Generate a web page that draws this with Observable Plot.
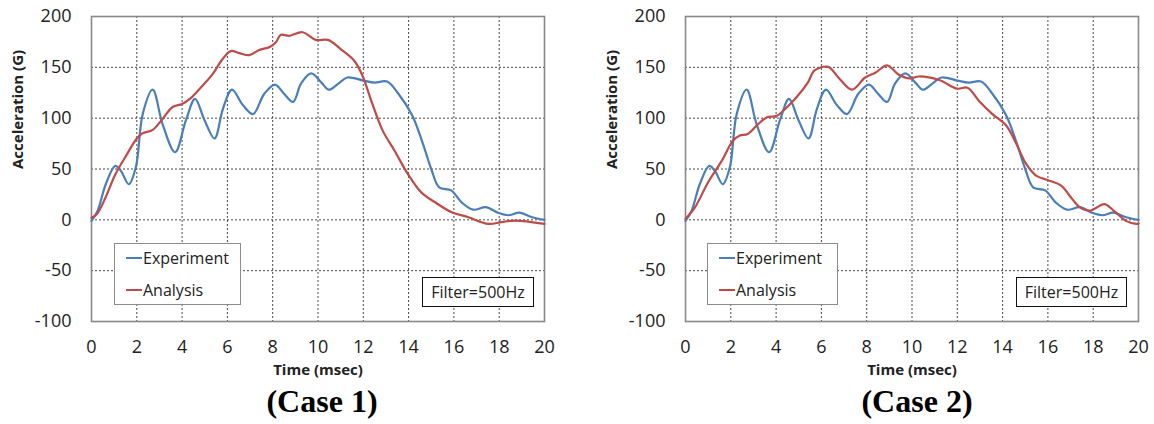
<!DOCTYPE html>
<html>
<head>
<meta charset="utf-8">
<script src="https://cdn.jsdelivr.net/npm/d3@7"></script>
<script src="https://cdn.jsdelivr.net/npm/@observablehq/plot@0.6"></script>
<style>
  html, body { margin: 0; padding: 0; background: #fff; }
  #root { position: relative; width: 1154px; height: 424px; overflow: hidden; font-family: "Open Sans", sans-serif; }
  .panel { position: absolute; top: 0; }
  .legend { position: absolute; border: 1px solid #8c8c8c; background: #fff; box-sizing: border-box; }
  .entry { position: absolute; left: 0; height: 22px; display: flex; align-items: center; font-size: 16px; color: #222; }
  .swatch { display: inline-block; width: 16px; height: 0; border-top: 2px solid; margin-right: 1px; }
  .filter { position: absolute; border: 1.5px solid #111; background: #fff; box-sizing: border-box; font-size: 16px; color: #222; display: flex; align-items: center; justify-content: center; }
  .caption { position: absolute; top: 383px; transform: translateX(-50%); font-family: "Liberation Serif", "Times New Roman", serif; font-weight: bold; font-size: 32px; color: #000; white-space: nowrap; }
</style>
</head>
<body>
<div id="root"></div>
<script>
// ---- data ----
const xTicks = [0, 2, 4, 6, 8, 10, 12, 14, 16, 18, 20];
const yTicks = [-100, -50, 0, 50, 100, 150, 200];

const expTime  = [0, 0.27, 0.63, 1.05, 1.3, 1.65, 1.96, 2.26, 2.7, 3.14, 3.69, 4.17, 4.57, 4.99, 5.43, 5.8, 6.2, 6.68, 7.13, 7.63, 8.1, 8.5, 8.9, 9.25, 9.7, 10.15, 10.47, 10.9, 11.3, 12.0, 12.5, 13.05, 13.55, 14.15, 14.6, 15.0, 15.35, 15.88, 16.35, 16.85, 17.42, 17.95, 18.4, 18.9, 19.45, 20];
const expAccel = [-1, 9, 35, 53, 48, 35, 52, 104, 128, 94, 66.5, 98, 119, 98, 80, 109, 128, 113, 104, 124, 133, 124, 116, 134, 144, 135, 128, 134, 140, 137, 135, 136, 124, 103, 77, 50, 32, 29, 17, 10, 12.5, 7, 4.5, 7, 2.6, 0];

const case1Time  = [0, 0.25, 0.62, 1.06, 1.5, 2.0, 2.25, 2.7, 3.13, 3.58, 4.0, 4.37, 4.82, 5.34, 5.78, 6.15, 6.52, 6.97, 7.4, 7.87, 8.15, 8.36, 8.73, 9.32, 9.9, 10.44, 11.0, 11.6, 11.96, 12.4, 12.85, 13.38, 13.97, 14.56, 15.15, 15.9, 16.64, 17.52, 18.1, 18.7, 20];
const case1Accel = [2, 6, 22, 45, 62, 80, 85, 88.5, 99, 111, 114, 119.5, 130, 143, 158, 166, 164, 162, 167, 170, 175, 182, 181, 184.5, 177, 177, 168, 156.5, 142, 114, 88, 68, 45, 27, 17.5, 7.5, 2.6, -4, -2.3, -0.7, -4];

const case2Time  = [0, 0.41, 1.0, 1.6, 2.1, 2.4, 2.75, 3.2, 3.6, 4.0, 4.4, 4.9, 5.4, 5.7, 6.3, 6.75, 7.35, 7.93, 8.4, 8.9, 9.4, 9.9, 10.3, 11.2, 12.0, 12.45, 12.96, 13.55, 14.15, 14.6, 15.04, 15.48, 16.07, 16.6, 16.95, 17.4, 17.85, 18.5, 18.9, 19.45, 19.9, 20];
const case2Accel = [1, 12, 37, 58, 78, 83, 84.5, 94, 101, 102, 109, 120.5, 135, 147, 150.5, 140, 128, 140, 145, 152, 143, 139, 141, 137.5, 129, 130, 117, 104, 93, 75, 55, 43.5, 38.5, 33.5, 24, 12.5, 9, 15.5, 9, -1, -4, -3.5];

const seriesNames = ["Experiment", "Analysis"];
const seriesColors = ["#4a7ebb", "#be4b48"];
const captions = ["(Case 1)", "(Case 2)"];
const filterLabel = "Filter=500Hz";
const xTitle = "Time (msec)";
const yTitle = "Acceleration (G)";

const zip = (ts, vs) => ts.map((t, i) => ({t, v: vs[i]}));
const experiment = zip(expTime, expAccel);
const analyses = [zip(case1Time, case1Accel), zip(case2Time, case2Accel)];

// ---- layout ----
const panels = [
  {left: 0,   width: 577, marginLeft: 91,  marginRight: 33, legend: {x: 114, w: 127}, filter: {x: 422, w: 112}, captionX: 322},
  {left: 577, width: 577, marginLeft: 108, marginRight: 16, legend: {x: 707, w: 131}, filter: {x: 1016, w: 111}, captionX: 917}
];

const root = document.getElementById("root");
const fmt = d => String(d);

panels.forEach((p, i) => {
  const chart = Plot.plot({
    width: p.width,
    height: 385,
    marginLeft: p.marginLeft,
    marginRight: p.marginRight,
    marginTop: 16,
    marginBottom: 64,
    style: {fontFamily: "Open Sans, sans-serif", fontSize: "18px", color: "#222", background: "#fff"},
    x: {domain: [0, 20]},
    y: {domain: [-100, 200]},
    marks: [
      Plot.ruleX(xTicks.slice(1, -1), {stroke: "#333", strokeWidth: 0.9, strokeDasharray: "2,2"}),
      Plot.ruleY(yTicks.slice(1, -1), {stroke: "#333", strokeWidth: 0.9, strokeDasharray: "2,2"}),
      Plot.frame({stroke: "#888", strokeWidth: 1.6}),
      Plot.line(experiment, {x: "t", y: "v", stroke: seriesColors[0], strokeWidth: 2.2, curve: "catmull-rom"}),
      Plot.line(analyses[i], {x: "t", y: "v", stroke: seriesColors[1], strokeWidth: 2.2, curve: "catmull-rom"}),
      Plot.axisX(xTicks, {tickSize: 0, tickPadding: 19, fontSize: 18, label: null, fill: "#222", tickFormat: fmt}),
      Plot.axisY(yTicks, {tickSize: 0, tickPadding: 20, fontSize: 18, label: null, fill: "#222", tickFormat: fmt}),
      Plot.text([xTitle], {frameAnchor: "bottom", dy: 53, fontSize: 15, fontWeight: "bold", fill: "#222"}),
      Plot.text([yTitle], {frameAnchor: "left", rotate: -90, dx: -73, fontSize: 15, fontWeight: "bold", fill: "#222"})
    ]
  });
  const wrap = document.createElement("div");
  wrap.className = "panel";
  wrap.style.left = p.left + "px";
  wrap.appendChild(chart);
  root.appendChild(wrap);

  // legend box
  const lg = document.createElement("div");
  lg.className = "legend";
  lg.style.left = p.legend.x + "px";
  lg.style.top = "243px";
  lg.style.width = p.legend.w + "px";
  lg.style.height = "62px";
  seriesNames.forEach((name, k) => {
    const e = document.createElement("div");
    e.className = "entry";
    e.style.top = (k === 0 ? 3 : 35) + "px";
    e.style.left = "11px";
    const sw = document.createElement("span");
    sw.className = "swatch";
    sw.style.borderTopColor = seriesColors[k];
    e.appendChild(sw);
    e.appendChild(document.createTextNode(name));
    lg.appendChild(e);
  });
  root.appendChild(lg);

  // filter box
  const fb = document.createElement("div");
  fb.className = "filter";
  fb.style.left = p.filter.x + "px";
  fb.style.top = "277px";
  fb.style.width = p.filter.w + "px";
  fb.style.height = "30px";
  fb.textContent = filterLabel;
  root.appendChild(fb);

  // caption
  const cap = document.createElement("div");
  cap.className = "caption";
  cap.style.left = p.captionX + "px";
  cap.textContent = captions[i];
  root.appendChild(cap);
});
</script>
</body>
</html>
